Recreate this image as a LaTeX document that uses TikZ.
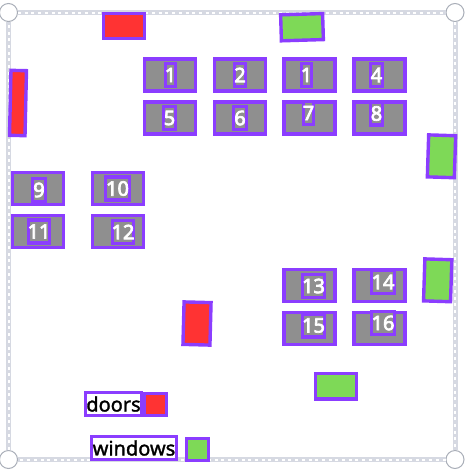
\documentclass[tikz,border=0pt]{standalone}
\usepackage{fontspec}
\setmainfont{Noto Sans}
\newfontfamily\numfont[FakeBold=3.5]{Noto Sans}
\newfontfamily\legendfont[FakeBold=1.5]{Noto Sans}
\definecolor{framegray}{HTML}{D6D9E2}
\definecolor{knobgray}{HTML}{A9AEB8}
\definecolor{boxpurple}{HTML}{8B3DFF}
\definecolor{deskgray}{HTML}{8F8F8F}
\definecolor{doorred}{HTML}{FF3333}
\definecolor{windowgreen}{HTML}{7ED957}
\tikzset{
  corner/.style={circle,draw=knobgray,line width=1pt,fill=white,minimum size=18pt,inner sep=0pt},
  edgeline/.style={draw=framegray,line width=5pt},
  edgedots/.style={draw=white,line width=2pt,dash pattern=on 3pt off 3.7pt},
  box/.style={draw=boxpurple,line width=3.4pt,inner sep=0pt},
  desk/.style={box,fill=deskgray,minimum width=51pt,minimum height=32pt},
  deskno/.style={box,fill=deskgray,text=white,font=\fontsize{20pt}{20pt}\numfont,minimum height=23pt},
  door/.style={box,fill=doorred},
  window/.style={box,fill=windowgreen},
  legendtext/.style={box,fill=white,text=black,font=\fontsize{20pt}{20pt}\legendfont,minimum height=23pt}
}
\newcommand{\seatnum}[1]{\makebox[0pt]{#1}}
\begin{document}
\begin{tikzpicture}[x=1pt,y=-1pt]
  \useasboundingbox (0,0) rectangle (471,469);
  % frame
  \node[corner] (tl) at (8.5,12.5) {};
  \node[corner] (tr) at (455,12.5) {};
  \node[corner] (bl) at (8.5,459.5) {};
  \node[corner] (br) at (455,459.5) {};
  \draw[edgeline] (tl) -- (tr) -- (br) -- (bl) -- (tl);
  \draw[edgedots] (tl) -- (tr) -- (br) -- (bl) -- (tl);
  % doors and windows
  \node[door,minimum width=41pt,minimum height=25pt] (doortop) at (124,26) {};
  \node[door,minimum width=15.5pt,minimum height=65pt,rotate=-1.3] (doorleft) at (18,103) {};
  \node[door,minimum width=27pt,minimum height=42.5pt,rotate=-1.5] (doormid) at (197,323.5) {};
  \node[window,minimum width=42pt,minimum height=26pt,rotate=1.7] (wintop) at (302,27.2) {};
  \node[window,minimum width=27pt,minimum height=42pt,rotate=-1.8] (winright) at (441.5,156.3) {};
  \node[window,minimum width=27pt,minimum height=42pt,rotate=-1.8] (winlow) at (437.7,280.3) {};
  \node[window,minimum width=41pt,minimum height=25.5pt] (winbottom) at (336,386.3) {};
  % desks
  \node[desk] (desk1) at (170,75) {};
  \node[desk] (desk2) at (240,75) {};
  \node[desk] (desk3) at (309.5,75) {};
  \node[desk] (desk4) at (379.5,75) {};
  \node[desk] (desk5) at (170,118) {};
  \node[desk] (desk6) at (240,118) {};
  \node[desk] (desk7) at (309.5,118) {};
  \node[desk] (desk8) at (379.5,118) {};
  \node[desk] (desk9) at (38,188.5) {};
  \node[desk] (desk10) at (118,188.5) {};
  \node[desk] (desk11) at (38,231.5) {};
  \node[desk] (desk12) at (118,231.5) {};
  \node[desk] (desk13) at (309.5,285.5) {};
  \node[desk] (desk14) at (379.5,285.5) {};
  \node[desk] (desk15) at (309.5,328.5) {};
  \node[desk] (desk16) at (379.5,328.5) {};
  % desk numbers
  \node[deskno,minimum width=10pt] (no1) at (170.5,75) {\seatnum{1}};
  \node[deskno,minimum width=11pt] (no2) at (240,75) {\seatnum{2}};
  \node[deskno,minimum width=10pt] (no3) at (306.5,75) {\seatnum{1}};
  \node[deskno,minimum width=12pt] (no4) at (376.5,75) {\seatnum{4}};
  \node[deskno,minimum width=12pt] (no5) at (169.5,118) {\seatnum{5}};
  \node[deskno,minimum width=13pt] (no6) at (240,118) {\seatnum{6}};
  \node[deskno,minimum width=10pt] (no7) at (308.5,113) {\seatnum{7}};
  \node[deskno,minimum width=12pt] (no8) at (376.5,113.5) {\seatnum{8}};
  \node[deskno,minimum width=13pt] (no9) at (39,190) {\seatnum{9}};
  \node[deskno,minimum width=24pt] (no10) at (117.5,188.5) {\seatnum{10}};
  \node[deskno,minimum width=21pt] (no11) at (39,231.5) {\seatnum{11}};
  \node[deskno,minimum width=21pt] (no12) at (123,232) {\seatnum{12}};
  \node[deskno,minimum width=22pt] (no13) at (313.5,286) {\seatnum{13}};
  \node[deskno,minimum width=23pt] (no14) at (383,282) {\seatnum{14}};
  \node[deskno,minimum width=22pt] (no15) at (313.5,325.5) {\seatnum{15}};
  \node[deskno,minimum width=23pt] (no16) at (383,323) {\seatnum{16}};
  % legend
  \node[legendtext,minimum width=56pt] (doorslabel) at (113.5,404) {\makebox[0pt]{doors}};
  \node[door,minimum width=22pt,minimum height=22pt] (doorkey) at (155.5,404.5) {};
  \node[legendtext,minimum width=85pt] (windowslabel) at (134,448) {\makebox[0pt]{windows}};
  \node[window,minimum width=22pt,minimum height=22pt] (windowkey) at (197.5,449.5) {};
\end{tikzpicture}
\end{document}
